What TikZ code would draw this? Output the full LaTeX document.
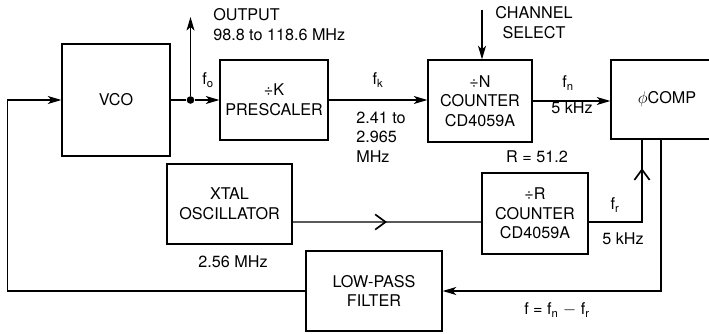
\documentclass[tikz,border=0pt]{standalone}
\usepackage{fontspec}
\setmainfont{TeX Gyre Heros}
\usetikzlibrary{arrows.meta,positioning,calc,decorations.markings}

\begin{document}
\begin{tikzpicture}[
  x=0.025cm, y=-0.025cm,
  every node/.style={font=\fontsize{11.5}{14}\selectfont},
  blk/.style={draw, rectangle, line width=0.9pt, align=center, inner sep=0pt},
  wire/.style={line width=0.9pt},
  ptr/.style={wire, -{Stealth[length=3.4mm, width=2mm, inset=0.9mm]}},
  chevmid/.style={wire, postaction={decorate}, decoration={markings,
    mark=at position #1 with {\arrow{Straight Barb[length=2.6mm, width=3.8mm, line width=1.2pt]}}}},
  dot/.style={circle, fill, inner sep=0pt, minimum size=0.19cm},
  lbl/.style={inner sep=0pt, align=center}
]
\useasboundingbox (0,0) rectangle (709,334);
% blocks
\node[blk, minimum width=2.7cm, minimum height=2.8cm] (vco) at (116,100) {VCO};
\node[blk, minimum width=2.7cm, minimum height=2cm] (pre) at (274,100) {÷K\\PRESCALER};
\node[blk, minimum width=2.6cm, minimum height=2.05cm] (ndiv) at (480,101) {÷N\\COUNTER\\CD4059A};
\node[blk, minimum width=2.8cm, minimum height=1.975cm] (cmp) at (667,99.5) {$\phi$COMP};
\node[blk, minimum width=3.125cm, minimum height=2cm] (xtal) at (229.5,204) {XTAL\\OSCILLATOR};
\node[blk, minimum width=2.65cm, minimum height=2.025cm] (rdiv) at (535,213.5) {÷R\\COUNTER\\CD4059A};
\node[blk, minimum width=3.4cm, minimum height=2cm] (lpf) at (374,291) {LOW-PASS\\FILTER};
\node[dot] (jn) at (190.5,100) {};
\coordinate (out) at (190.5,17);
\coordinate (chsel) at (482,10);
\coordinate (fbl) at (7.5,100);
% connections
\draw[ptr] (lpf.west) -| (fbl) -- (vco.west);
\draw[wire] (vco.east) -- (jn);
\draw[ptr] (jn) -- (pre.west);
\draw[ptr] (jn) -- (out);
\draw[ptr] (pre.east) -- (pre.east -| ndiv.west);
\draw[ptr] (ndiv.east) -- (ndiv.east -| cmp.west);
\draw[ptr] (chsel) -- (chsel |- ndiv.north);
\draw[chevmid=0.5] ($(xtal.east)+(0,18)$) -- ($(rdiv.west)+(0,8.5)$);
\draw[chevmid=0.79] ($(rdiv.east)+(0,8.5)$) -| ($(cmp.south)+(-25,0)$);
\draw[ptr] ($(cmp.south)+(-6,0)$) |- (lpf.east);
% labels
\node[lbl, align=left, anchor=west] (outlbl) at (213,24.5) {OUTPUT\\98.8 to 118.6 MHz};
\node[lbl] (folbl) at (208,80) {f\textsubscript{o}};
\node[lbl] (fklbl) at (378,80) {f\textsubscript{k}};
\node[lbl, align=left, anchor=west] (fkrng) at (356,137) {2.41 to\\2.965\\MHz};
\node[lbl] (chlbl) at (534,22.5) {CHANNEL\\SELECT};
\node[lbl] (fnlbl) at (568,83) {f\textsubscript{n}};
\node[lbl] (fnfrq) at (572,108) {5 kHz};
\node[lbl] (rlbl) at (537,157) {R = 51.2};
\node[lbl] (frlbl) at (615,205) {f\textsubscript{r}};
\node[lbl] (frfrq) at (623,239) {5 kHz};
\node[lbl] (xtfrq) at (233,262) {2.56 MHz};
\node[lbl] (flbl) at (557,310) {f = f\textsubscript{n} $-$ f\textsubscript{r}};
\end{tikzpicture}
\end{document}
